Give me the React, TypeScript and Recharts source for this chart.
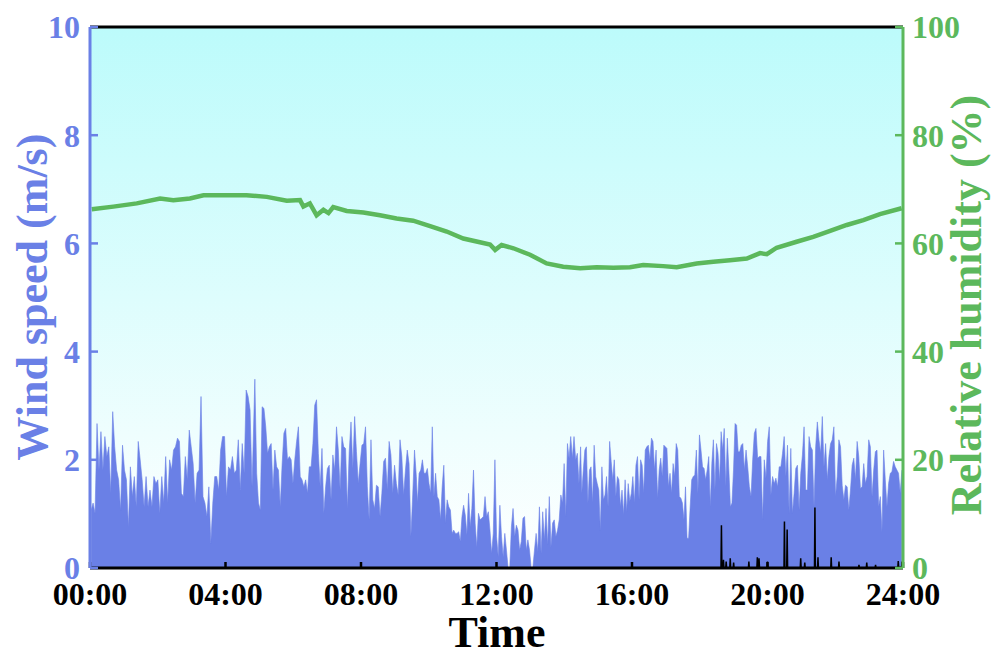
import { ComposedChart, Area, Line, XAxis, YAxis, CartesianGrid, ReferenceLine } from 'recharts';

const BLUE = '#6a80e6';
const GREEN = '#5cb85c';
const FONT = "'Liberation Serif', 'Times New Roman', serif";

const timeTicks = [0, 240, 480, 720, 960, 1200, 1440];
const windTicks = [0, 2, 4, 6, 8, 10];
const humidityTicks = [0, 20, 40, 60, 80, 100];

// wind speed (m/s) in five stretches, left to right
const windA = [1.07, 1.20, 1.01, 2.67, 1.81, 2.52, 1.81, 2.43, 2.06, 2.24, 1.38, 2.89, 2.24, 1.81, 1.63, 1.07, 2.27, 1.81, 1.63, 0.76, 1.87, 1.32, 1.69, 1.13, 2.34, 2.00, 1.63, 1.13, 1.69, 1.13, 1.44, 1.13, 1.69, 1.56, 1.63, 1.01, 1.69, 1.20, 2.06, 1.20, 2.00, 1.81, 2.18, 2.24, 2.40, 2.34, 1.38, 1.32, 2.06, 1.63, 2.55, 2.24, 1.93, 1.20, 1.75, 1.81, 3.17, 1.32, 1.20, 0.95, 1.50, 0.46, 1.20, 1.69, 1.69, 1.44, 2.18, 2.43, 2.43, 1.32, 1.87, 1.81, 2.06, 1.75, 1.81, 2.37, 1.44, 2.30, 1.75, 3.29, 3.17, 2.92, 1.50];
const windB = [3.49, 1.75, 1.20, 1.07, 2.98, 2.95, 2.61, 2.12, 2.24, 2.30, 1.44, 2.18, 1.87, 1.81, 1.13, 1.90, 2.49, 2.58, 2.00, 2.06, 2.00, 1.56, 2.00, 2.34, 2.61, 1.69, 1.63, 1.50, 1.63, 1.38, 1.87, 1.87, 2.30, 3.01, 3.11, 2.12, 1.50, 2.21, 1.01, 1.50, 1.84, 1.90, 1.26, 2.09, 1.81, 2.61, 2.18, 1.44, 2.43, 2.24, 2.21, 1.10, 2.15, 2.70, 1.84, 2.80, 2.15, 1.56, 1.93, 2.27, 2.30, 2.61, 1.50, 0.89, 2.37, 1.26, 1.10, 1.53, 1.50, 0.95, 1.38, 1.97, 2.03, 1.44, 2.34, 2.09, 1.38, 1.90, 1.56, 1.35, 2.37, 2.06, 1.35, 1.81, 2.18, 1.93, 0.58, 1.35, 2.18, 1.69];
const windC = [1.20, 1.75, 1.81, 2.00, 1.75, 1.75, 1.84, 1.56, 1.38, 2.61, 1.32, 1.75, 1.32, 1.26, 0.89, 1.50, 1.90, 0.83, 1.26, 1.13, 1.07, 0.64, 0.70, 0.64, 0.64, 0.67, 0.49, 0.95, 1.16, 0.98, 0.61, 1.38, 0.76, 1.10, 1.81, 0.83, 0.39, 1.01, 0.89, 0.92, 0.95, 1.32, 0.95, 1.04, 0.70, 0.27, 0.64, 2.00, 0.58, 0.21, 1.16, 0.58, 0.21, 0.64, 0.33, 0, 0, 0.76, 1.10, 0.58, 0.79, 0.70, 0.33, 0.49, 0.92, 0.95, 0.33, 0.52, 0.33, 0, 0, 0.33, 0.64, 0.30, 1.13, 0.27, 1.04, 0.52, 1.10, 0.43, 1.32, 0.39, 0.83, 0.89, 0.58, 0.70, 0.89, 1.35, 1.20, 1.93, 0.95, 2.30, 2.03, 2.43, 2.03, 2.43, 2.00, 2.12, 1.56, 2.24];
const windD = [1.38, 1.81, 2.18, 2.24, 1.20, 1.81, 1.87, 1.20, 2.27, 1.69, 1.56, 1.44, 0.70, 1.87, 1.26, 1.35, 1.69, 1.13, 2.34, 1.97, 1.63, 2.00, 1.32, 1.69, 1.63, 1.13, 1.44, 0.98, 1.63, 1.04, 1.56, 1.23, 1.38, 1.69, 1.20, 1.90, 2.06, 1.26, 2.00, 1.90, 1.38, 2.18, 2.24, 2.27, 2.00, 2.40, 2.34, 1.81, 2.18, 1.29, 1.81, 2.03, 1.69, 2.27, 2.24, 2.21, 1.50, 1.75, 1.38, 1.93, 1.69, 2.30, 2.18, 1.32, 1.29, 1.20, 0.89, 1.50, 0.55, 0.55, 1.13, 1.63, 1.69, 1.72, 2.18, 1.38, 2.46, 2.18, 1.87, 1.84, 1.63, 1.81, 2.06, 1.13, 1.93, 2.37, 1.44, 2.30, 2.12, 1.60, 2.52, 2.18, 2.58, 1.50, 2.40, 1.81, 1.13, 1.20, 1.81, 2.67, 2.64, 2.15, 2.15, 2.27, 2.30, 1.81];
const windE = [2.18, 1.87, 1.50, 1.32, 2.00, 2.49, 2.58, 2.03, 2.06, 2.06, 0.89, 2.00, 1.66, 2.34, 2.61, 1.35, 1.69, 1.56, 1.66, 1.50, 1.87, 1.87, 2.12, 2.43, 1.69, 2.27, 1.01, 2.21, 1.01, 1.38, 1.84, 1.90, 1.07, 1.75, 2.09, 2.61, 1.44, 1.44, 2.43, 2.24, 2.18, 1.13, 2.24, 2.70, 2.37, 2.12, 2.80, 1.87, 2.30, 1.63, 2.06, 2.30, 2.37, 2.61, 1.32, 1.69, 2.37, 2.24, 1.53, 1.26, 1.53, 1.50, 1.07, 1.44, 1.90, 2.03, 1.63, 2.34, 2.06, 1.47, 1.50, 1.93, 1.56, 1.69, 2.37, 2.24, 1.32, 1.81, 2.15, 2.18, 1.13, 1.32, 0.67, 2.18, 1.63, 1.13, 1.56, 1.75, 1.78, 1.97, 1.87, 1.81, 1.75, 1.38, 1.81];
// minute of day of the first and last reading of each stretch
const windSpans = [[2, 287], [292, 578], [580, 869], [871, 1159], [1162, 1438]];

// relative humidity (%)
const humidityHours = [0.05, 0.69, 1.38, 2.07, 2.46, 2.95, 3.35, 4.03, 4.62, 5.22, 5.81, 6.2, 6.3, 6.49, 6.69, 6.89, 7.04, 7.18, 7.58, 8.07, 8.56, 9.05, 9.54, 10.04, 10.53, 11.02, 11.51, 11.81, 11.96, 12.15, 12.5, 12.99, 13.48, 13.97, 14.47, 14.96, 15.45, 15.94, 16.33, 16.92, 17.32, 17.91, 18.4, 18.89, 19.39, 19.78, 19.98, 20.27, 20.86, 21.35, 21.85, 22.34, 22.83, 23.32, 23.96];
const humidityValues = [66.3, 66.8, 67.4, 68.3, 68.0, 68.3, 68.9, 68.9, 68.9, 68.6, 67.9, 68.0, 66.8, 67.4, 65.2, 66.2, 65.6, 66.7, 66.0, 65.7, 65.2, 64.6, 64.2, 63.2, 62.2, 60.9, 60.2, 59.8, 58.8, 59.7, 59.1, 57.9, 56.3, 55.7, 55.4, 55.6, 55.5, 55.6, 56.0, 55.8, 55.6, 56.3, 56.6, 56.9, 57.2, 58.2, 58.0, 59.2, 60.3, 61.2, 62.3, 63.4, 64.3, 65.4, 66.5];

// short black spikes in the evening (m/s)
const spikeHours = [18.64, 18.7, 18.78, 18.9, 19.0, 19.45, 19.7, 19.75, 20.0, 20.5, 20.58, 20.98, 21.1, 21.4, 21.49, 21.88, 22.11, 22.7, 22.93, 23.19, 23.86, 23.97];
const spikeValues = [0.79, 0.15, 0.12, 0.18, 0.1, 0.12, 0.2, 0.18, 0.12, 0.86, 0.71, 0.18, 0.1, 1.12, 0.2, 0.2, 0.12, 0.06, 0.1, 0.06, 0.13, 0.12];

const windData = [windA, windB, windC, windD, windE].flatMap((seg, k) => {
  const [from, to] = windSpans[k];
  return seg.map((v, i) => ({ t: from + (i * (to - from)) / (seg.length - 1), wind: v }));
});
const humidityData = humidityHours.map((h, i) => ({ t: h * 60, rh: humidityValues[i] }));
const spikeData = spikeHours.flatMap((h, i) => [
  { t: h * 60 - 0.8, s: 0 },
  { t: h * 60, s: spikeValues[i] },
  { t: h * 60 + 0.8, s: 0 },
]);

const fmtTime = (m: number) => `${String(m / 60).padStart(2, '0')}:00`;

const titleStyle = { fontFamily: FONT, fontWeight: 'bold', fontSize: 44 } as const;

const windTitle = () => (
  <text x={47} y={297} transform="rotate(-90, 47, 297)" textAnchor="middle" fill={BLUE} style={titleStyle}>
    Wind speed (m/s)
  </text>
);
const humidityTitle = () => (
  <text x={981} y={305} transform="rotate(-90, 981, 305)" textAnchor="middle" fill={GREEN} style={titleStyle}>
    Relative humidity (%)
  </text>
);
const timeTitle = () => (
  <text x={497} y={647} textAnchor="middle" fill="#000" style={titleStyle}>
    Time
  </text>
);

const tickFont = { fontSize: 32, fontWeight: 'bold', fontFamily: FONT };

const App = () => (
  <div style={{ position: 'absolute', left: 0, top: 0, fontFamily: FONT, fontWeight: 'bold' }}>
    <ComposedChart width={1000} height={656} data={windData} margin={{ top: 27, right: 0, bottom: 0, left: 0 }}>
      <defs>
        <linearGradient id="plotBg" x1="0" y1="0" x2="0" y2="1">
          <stop offset="0%" stopColor="#bcfbfb" />
          <stop offset="100%" stopColor="#ffffff" />
        </linearGradient>
      </defs>
      <CartesianGrid yAxisId="wind" horizontal={false} vertical={false} fill="url(#plotBg)" fillOpacity={1} stroke="none" />
      <ReferenceLine yAxisId="wind" y={10} stroke="#000" strokeWidth={3} />
      <Area
        yAxisId="wind"
        dataKey="wind"
        type="linear"
        stroke={BLUE}
        strokeWidth={0.6}
        fill={BLUE}
        fillOpacity={1}
        dot={false}
        activeDot={false}
        isAnimationActive={false}
      />
      <Line yAxisId="wind" data={spikeData} dataKey="s" type="linear" stroke="#000" strokeWidth={1.5} dot={false} activeDot={false} isAnimationActive={false} />
      <Line yAxisId="rh" data={humidityData} dataKey="rh" type="linear" stroke={GREEN} strokeWidth={4.5} dot={false} activeDot={false} isAnimationActive={false} />
      <XAxis
        dataKey="t"
        type="number"
        domain={[0, 1440]}
        ticks={timeTicks}
        interval={0}
        tickFormatter={fmtTime}
        height={88}
        axisLine={{ stroke: '#000', strokeWidth: 3 }}
        tickLine={{ stroke: '#000', strokeWidth: 2.5 }}
        tickSize={-6}
        tickMargin={20}
        tick={{ ...tickFont, fill: '#000' }}
        label={timeTitle}
      />
      <YAxis
        yAxisId="wind"
        domain={[0, 10]}
        ticks={windTicks}
        interval={0}
        width={90}
        axisLine={{ stroke: BLUE, strokeWidth: 3 }}
        tickLine={{ stroke: BLUE, strokeWidth: 2.5 }}
        tickSize={-8}
        tickMargin={18}
        tick={{ ...tickFont, fill: BLUE }}
        label={windTitle}
      />
      <YAxis
        yAxisId="rh"
        orientation="right"
        domain={[0, 100]}
        ticks={humidityTicks}
        interval={0}
        width={97}
        axisLine={{ stroke: GREEN, strokeWidth: 3 }}
        tickLine={{ stroke: GREEN, strokeWidth: 2.5 }}
        tickSize={-8}
        tickMargin={17}
        tick={{ ...tickFont, fill: GREEN }}
        label={humidityTitle}
      />
    </ComposedChart>
  </div>
);

export default App;
